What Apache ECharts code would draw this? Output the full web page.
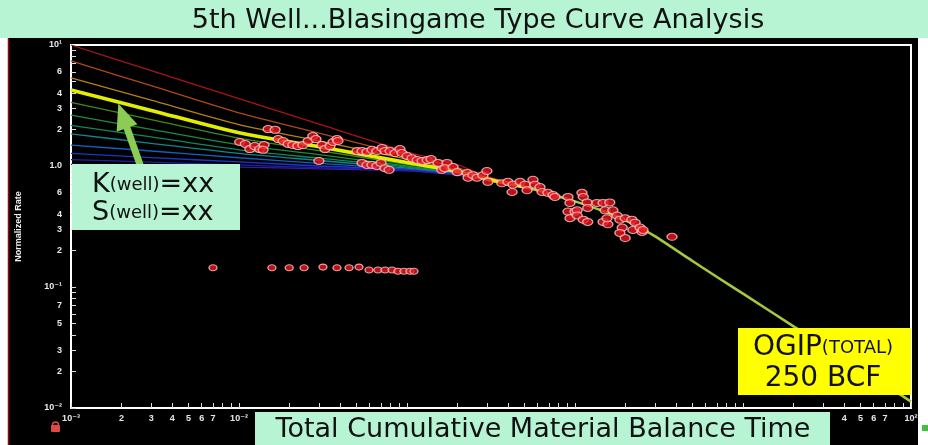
<!DOCTYPE html>
<html><head><meta charset="utf-8">
<script src="https://cdn.jsdelivr.net/npm/echarts@6/dist/echarts.min.js"></script>
<style>html,body{margin:0;padding:0;background:#fff}#c{width:928px;height:445px}</style>
</head><body><div id="c"></div>
<script>
// ---- Data ----
const stemTime = [0.001, 0.003, 0.01, 0.03, 0.1, 0.2, 0.3, 0.5];
const stemRed     = [10,   6.14, 3.6,  2.22, 1.31, 1.02, 0.82, 0.67];
const stemBrown   = [7.4,  4.61, 2.75, 1.87, 1.22, 0.97, 0.80, 0.67];
const stemOrange  = [5.35, 3.50, 2.2,  1.61, 1.14, 0.93, 0.79, 0.67];
const stemYellow  = [4.24, 2.88, 1.88, 1.44, 1.07, 0.90, 0.78, 0.67];
const stemOlive   = [3.35, 2.42, 1.7,  1.34, 1.03, 0.88, 0.775, 0.67];
const stemGreen   = [2.63, 2.01, 1.5,  1.24, 1.0,  0.87, 0.775, 0.67];
const stemGreen2  = [2.17, 1.74, 1.36, 1.16, 0.98, 0.86, 0.77, 0.67];
const stemTeal    = [1.84, 1.54, 1.27, 1.11, 0.96, 0.855, 0.77, 0.67];
const stemCyan    = [1.49, 1.33, 1.17, 1.05, 0.94, 0.85, 0.77, 0.67];
const stemBlue    = [1.27, 1.175, 1.08, 1.0, 0.93, 0.845, 0.77, 0.67];
const stemNavy    = [1.13, 1.077, 1.02, 0.97, 0.92, 0.84, 0.77, 0.67];
const stemViolet  = [1.03, 1.005, 0.98, 0.946, 0.91, 0.84, 0.77, 0.67];

const decayTime = [0.3, 0.5, 0.7, 1, 1.5, 2, 3, 5, 7, 10, 20, 30, 50, 100];
const decayRate = [0.77, 0.67, 0.59, 0.51, 0.42, 0.355, 0.262, 0.164, 0.121, 0.0882, 0.0473, 0.0332, 0.0212, 0.0113];

const wellPoints = [
 [0.0149,2.02],[0.0164,1.99],[0.0101,1.58],[0.0109,1.52],[0.0116,1.38],[0.0124,1.46],[0.0133,1.38],[0.0141,1.49],[0.0139,1.36],
 [0.0171,1.67],[0.0183,1.61],[0.0196,1.52],[0.0209,1.49],[0.0224,1.46],[0.0240,1.49],[0.0258,1.61],[0.0275,1.77],[0.0287,1.67],
 [0.0312,1.49],[0.0325,1.38],[0.0348,1.46],[0.0363,1.58],[0.0383,1.67],[0.0388,1.61],[0.0299,1.10],
 [0.0504,1.33],[0.0540,1.33],[0.0578,1.31],[0.0619,1.36],[0.0662,1.33],[0.0710,1.41],[0.0740,1.33],[0.0793,1.33],[0.0850,1.28],[0.0908,1.38],[0.0933,1.28],
 [0.0540,1.06],[0.0578,1.02],[0.0619,1.02],[0.0662,1.00],[0.0700,1.06],[0.0740,0.96],[0.0782,0.93],
 [0.100,1.21],[0.107,1.16],[0.115,1.12],[0.123,1.10],[0.132,1.12],[0.139,1.14],[0.153,1.06],[0.161,0.93],
 [0.173,1.06],[0.168,0.96],[0.188,0.98],[0.199,0.89],[0.228,0.875],[0.231,0.80],[0.247,0.84],[0.261,0.80],[0.283,0.84],[0.299,0.91],[0.303,0.74],
 [0.367,0.72],[0.399,0.74],[0.428,0.70],[0.422,0.61],[0.471,0.74],[0.504,0.70],[0.518,0.63],[0.562,0.77],[0.578,0.70],[0.619,0.67],[0.637,0.61],[0.690,0.60],[0.740,0.575],[0.760,0.555],
 [0.908,0.555],[0.933,0.495],[0.908,0.42],[0.933,0.37],[1.00,0.42],[1.03,0.43],[1.03,0.39],[1.10,0.60],[1.12,0.555],[1.18,0.50],[1.19,0.45],[1.12,0.36],[1.19,0.345],
 [1.35,0.495],[1.47,0.495],[1.51,0.43],[1.61,0.50],[1.68,0.43],[1.47,0.345],[1.57,0.33],[1.55,0.37],
 [1.78,0.39],[1.85,0.36],[1.99,0.37],[1.91,0.31],[1.85,0.28],[1.99,0.254],[2.18,0.36],[2.28,0.34],[2.21,0.296],[2.44,0.31],[2.51,0.285],[2.54,0.296],
 [3.78,0.26]
];
const lowRowPoints = [
 [0.0070,0.144],[0.0157,0.144],[0.0199,0.144],[0.0244,0.144],[0.0316,0.146],[0.0383,0.144],[0.0452,0.144],[0.0518,0.146],
 [0.0594,0.138],[0.0671,0.138],[0.0740,0.138],[0.0815,0.138],[0.0883,0.135],[0.0959,0.135],[0.104,0.135],[0.110,0.135]
];

const xLabelValues = [0.001,0.002,0.003,0.004,0.005,0.006,0.007,0.01,0.02,0.03,0.04,0.05,0.06,0.07,0.1,0.2,0.3,0.4,0.5,0.6,0.7,1,2,3,4,5,6,7,10,20,30,40,50,60,70,100];
const xLabelTexts  = ['10⁻³','2','3','4','5','6','7','10⁻²','2','3','4','5','6','7','10⁻¹','2','3','4','5','6','7','10⁰','2','3','4','5','6','7','10¹','2','3','4','5','6','7','10²'];
const yLabelValues = [0.01,0.02,0.03,0.05,0.07,0.1,0.2,0.3,0.4,0.6,1,2,3,4,6,10];
const yLabelTexts  = ['10⁻²','2','3','5','7','10⁻¹','2','3','4','6','1.0','2','3','4','6','10¹'];
const arrowAnchor = [[0.00258, 1.02], [0.00203, 2.6]];

// ---- Build ----
const pair = (xs, ys) => xs.map((x, i) => [x, ys[i]]);
function ticksFor(e0, e1) { const t = []; for (let e = e0; e < e1; e++) for (let k = 1; k <= 9; k++) t.push(+(k * Math.pow(10, e)).toPrecision(3)); t.push(Math.pow(10, e1)); return t; }
function labelOf(vals, texts) { return v => { for (let i = 0; i < vals.length; i++) if (Math.abs(Math.log10(v) - Math.log10(vals[i])) < 1e-6) return texts[i]; return ''; }; }

const stems = [
 [stemRed, '#a8141a', 1.3], [stemBrown, '#b0481a', 1.3], [stemOrange, '#b88018', 1.3],
 [stemOlive, '#3c8c1a', 1.3], [stemGreen, '#18903a', 1.3], [stemGreen2, '#0c8a5a', 1.3],
 [stemTeal, '#0e8790', 1.3], [stemCyan, '#1060c0', 1.3], [stemBlue, '#1838c8', 1.3],
 [stemNavy, '#1c20a8', 1.3], [stemViolet, '#3a18a0', 1.3]
];
const series = stems.map(s => ({
  type: 'line', data: pair(stemTime, s[0]), showSymbol: false, smooth: 0.25,
  lineStyle: { color: s[1], width: s[2] }, silent: true, animation: false
}));
series.push({
  type: 'line', data: pair(decayTime, decayRate), showSymbol: false, smooth: 0.15,
  lineStyle: { color: '#a6c83c', width: 2.6 }, silent: true, animation: false
});
series.push({
  type: 'line', data: pair(stemTime, stemYellow), showSymbol: false, smooth: 0.25,
  lineStyle: { color: '#e2ee00', width: 3.6 }, silent: true, animation: false,
  markLine: {
    silent: true, symbol: ['none', 'triangle'], symbolSize: [22, 26], animation: false,
    label: { show: false },
    lineStyle: { color: '#8ccc55', width: 7, type: 'solid' },
    data: [[{ coord: arrowAnchor[0] }, { coord: arrowAnchor[1] }]]
  }
});
const dotStyle = { color: '#e8141c', borderColor: '#ffc8c8', borderWidth: 1.2 };
series.push({ type: 'scatter', data: wellPoints, symbol: 'circle', symbolSize: [10, 7], itemStyle: dotStyle, animation: false, z: 5 });
series.push({ type: 'scatter', data: lowRowPoints, symbol: 'circle', symbolSize: [8, 6], itemStyle: dotStyle, animation: false, z: 5 });

const lblStyle = { color: '#e8e8e8', fontSize: 9, fontWeight: 'bold', fontFamily: 'Arial, "Liberation Sans", "DejaVu Sans", sans-serif' };
const mint = '#b6f4d4';
const big = 'DejaVu Sans, sans-serif';
const richBig = (a, b) => ({ a: { fontSize: a, fontFamily: big, fill: '#111', color: '#111' }, b: { fontSize: b, fontFamily: big, fill: '#111', color: '#111' } });

const chart = echarts.init(document.getElementById('c'), null, { renderer: 'canvas' });
chart.setOption({
  backgroundColor: '#ffffff',
  animation: false,
  grid: { left: 71, top: 45, right: 17, bottom: 37, show: true, backgroundColor: '#000', borderColor: '#ffffff', borderWidth: 2 },
  xAxis: {
    type: 'log', logBase: 10, min: 0.001, max: 100,
    axisLine: { show: true, lineStyle: { color: '#fff', width: 2 } },
    axisTick: { show: true, inside: true, length: 5, customValues: ticksFor(-3, 2), lineStyle: { color: '#ddd', width: 1 } },
    axisLabel: Object.assign({ customValues: xLabelValues, formatter: labelOf(xLabelValues, xLabelTexts), margin: 6 }, lblStyle),
    splitLine: { show: false }, minorTick: { show: false }
  },
  yAxis: {
    type: 'log', logBase: 10, min: 0.01, max: 10,
    name: 'Normalized Rate', nameLocation: 'middle', nameRotate: 90, nameGap: 48,
    nameTextStyle: { color: '#f0f0f0', fontSize: 9, fontWeight: 'bold', fontFamily: 'Arial, "Liberation Sans", sans-serif' },
    axisLine: { show: true, lineStyle: { color: '#fff', width: 2 } },
    axisTick: { show: true, inside: true, length: 5, customValues: ticksFor(-2, 1), lineStyle: { color: '#ddd', width: 1 } },
    axisLabel: Object.assign({ customValues: yLabelValues, formatter: labelOf(yLabelValues, yLabelTexts), margin: 9 }, lblStyle),
    splitLine: { show: false }, minorTick: { show: false }
  },
  series: series,
  graphic: [
    { type: 'rect', z: -100, shape: { x: 0, y: 0, width: 928, height: 38 }, style: { fill: mint }, silent: true },
    { type: 'rect', z: -100, shape: { x: 8, y: 38, width: 910, height: 407 }, style: { fill: '#000' }, silent: true },
    { type: 'line', z: -99, shape: { x1: 8.5, y1: 38, x2: 8.5, y2: 445 }, style: { stroke: '#a00010', lineWidth: 1.5 }, silent: true },
    { type: 'text', z: 100, x: 478, y: 21, style: { text: '5th Well...Blasingame Type Curve Analysis', font: '27px ' + big, fill: '#111', textAlign: 'center', textVerticalAlign: 'middle' } },
    { type: 'rect', z: 100, shape: { x: 72, y: 164, width: 168, height: 66 }, style: { fill: mint } },
    { type: 'text', z: 101, x: 92, y: 185, style: { text: '{a|K}{b|(well)}{a|=xx}', textVerticalAlign: 'middle', rich: richBig(27, 18) } },
    { type: 'text', z: 101, x: 92, y: 213, style: { text: '{a|S}{b|(well)}{a|=xx}', textVerticalAlign: 'middle', rich: richBig(27, 18) } },
    { type: 'rect', z: 100, shape: { x: 738, y: 328, width: 173, height: 67 }, style: { fill: '#ffff00' } },
    { type: 'text', z: 101, x: 823, y: 348, style: { text: '{a|OGIP}{b|(TOTAL)}', textAlign: 'center', textVerticalAlign: 'middle', rich: richBig(28, 18) } },
    { type: 'text', z: 101, x: 823, y: 379, style: { text: '250 BCF', font: '28px ' + big, fill: '#111', textAlign: 'center', textVerticalAlign: 'middle' } },
    { type: 'rect', z: 100, shape: { x: 255, y: 412, width: 575, height: 33 }, style: { fill: mint } },
    { type: 'text', z: 101, x: 543, y: 430, style: { text: 'Total Cumulative Material Balance Time', font: '27px ' + big, fill: '#111', textAlign: 'center', textVerticalAlign: 'middle' } },
    { type: 'rect', z: 100, shape: { x: 51, y: 425, width: 9, height: 7, r: 1 }, style: { fill: '#e04848' } },
    { type: 'arc', z: 100, shape: { cx: 55.5, cy: 425, r: 3, startAngle: Math.PI, endAngle: 0 }, style: { stroke: '#e04848', lineWidth: 1.5, fill: 'none' } },
    { type: 'rect', z: 100, shape: { x: 922, y: 425, width: 6, height: 6 }, style: { fill: '#40c040' } }
  ]
});
</script>
</body></html>
